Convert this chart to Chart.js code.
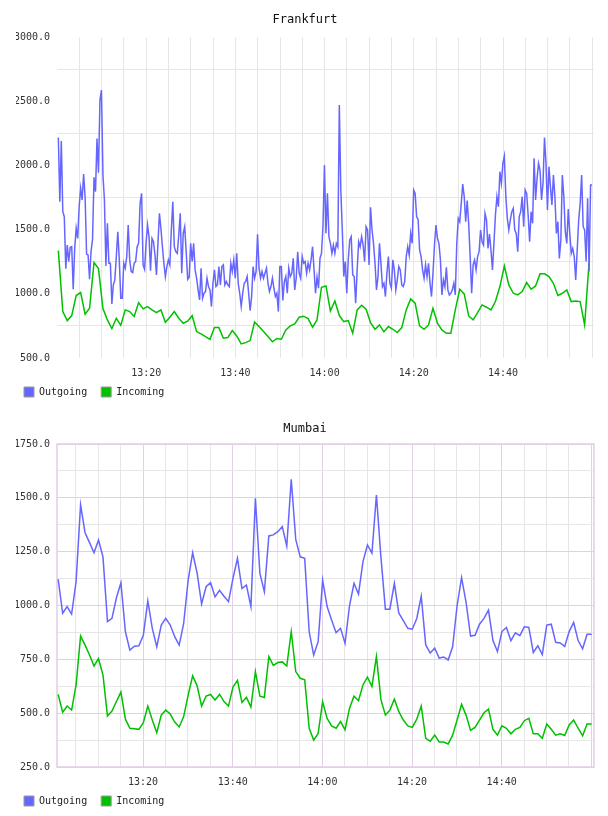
<!DOCTYPE html>
<html>
<head>
<meta charset="utf-8">
<script src="https://cdn.jsdelivr.net/npm/chart.js@4.4.1/dist/chart.umd.min.js"></script>
<style>
  body { margin: 0; background: #fff; width: 608px; height: 816px; overflow: hidden; position: relative; }
  canvas { position: absolute; left: 0; }
</style>
</head>
<body>
<canvas id="frankfurt" width="608" height="407" style="top:0"></canvas>
<canvas id="mumbai" width="608" height="407" style="top:409px"></canvas>
<script>
// values (time in minutes since midnight)
const frankfurtOutgoing = [
  2220,1719,2192,1641,1602,1197,1381,1252,1363,1368,1036,1355,1511,1433,1680,1823,1732,1935,1758,1311,
  1303,1114,1329,1426,1909,1797,2212,1945,2511,2589,1927,1732,1218,1550,1239,1239,922,1070,1109,1291,
  1485,1265,966,966,1239,1200,1291,1537,1265,1174,1166,1239,1252,1368,1394,1706,1784,1226,1192,1394,
  1537,1446,1181,1433,1407,1303,1148,1394,1628,1511,1368,1239,1135,1213,1265,1226,1498,1719,1368,1329,
  1316,1459,1628,1161,1472,1524,1329,1114,1130,1394,
  1252,1394,1187,1122,1031,953,1200,966,1005,1018,1122,1057,1031,901,1083,1187,1057,1070,1213,1070,
  1213,1226,1070,1096,1070,1057,1239,1174,1265,1122,1316,1083,1005,901,1005,1083,1096,1135,1005,870,
  979,1213,1122,1174,1464,1200,1122,1174,1122,1161,1200,1083,1018,1057,1122,1044,979,1005,862,1213,
  1213,948,1096,1135,1005,1200,1135,1161,1278,1031,1122,1329,1161,1122,1291,1239,1252,1161,1239,1187,
  1265,1368,1187,1005,1130,1044,1278,1316,1524,2005,
  1472,1784,1446,1394,1316,1381,1316,1394,1368,2472,1810,1498,1135,1252,1005,1265,1420,1446,1148,1135,
  927,1187,1407,1368,1446,1381,1252,1524,1498,1226,1675,1498,1394,1239,1031,1135,1394,1239,1057,1083,
  979,1161,1291,1083,1044,1265,1187,1031,1109,1213,1187,1070,1057,1096,1291,1368,1303,1472,1394,1810,
  1784,1602,1581,1342,1291,1187,1122,1226,1135,1239,1083,979,1161,1381,1537,1433,1394,1265,992,1109,
  1057,1207,1031,992,1005,1031,1083,992,1394,1589,
  1563,1706,1857,1758,1563,1727,1550,1291,1005,1226,1265,1187,1291,1329,1498,1407,1381,1628,1576,1355,
  1467,1342,1187,1394,1615,1758,1680,1953,1862,2018,2075,1758,1589,1498,1576,1641,1667,1498,1472,1329,
  1602,1641,1758,1524,1810,1784,1615,1407,1641,1550,2057,1732,1901,2018,1966,1732,1862,2220,2018,1654,
  1992,1836,1693,1927,1758,1472,1563,1277,1420,1927,1758,1485,1394,1662,1472,1316,1355,1291,1109,1342,
  1576,1706,1927,1524,1498,1252,1745,1174,1849,1849
];
const frankfurtIncoming = [
  1337,862,792,831,987,1010,841,888,1244,1197,885,797,730,810,755,875,862,823,932,883,
  901,875,854,875,779,818,862,810,771,787,830,706,688,667,646,737,737,654,659,714,
  672,610,620,636,781,745,706,667,626,652,646,719,750,766,818,826,807,740,797,1052,
  1062,867,945,831,784,792,693,875,911,880,776,724,758,704,745,724,698,737,875,961,
  927,750,724,758,888,771,719,693,693,875,1036,1000,828,797,854,914,896,875,940,1057,
  1218,1070,1005,992,1018,1088,1036,1062,1156,1156,1135,1083,987,1005,1031,940,945,940,758,1246
];
const mumbaiOutgoing = [
  1122,964,995,960,1111,1467,1338,1292,1245,1304,1226,925,940,1036,1106,878,793,811,813,862,
  1021,894,808,909,940,909,855,816,917,1118,1245,1150,1007,1087,1106,1040,1071,1043,1018,1126,
  1219,1079,1095,995,1498,1150,1064,1323,1328,1343,1366,1276,1586,1307,1226,1219,878,770,832,1118,
  995,933,874,894,824,1000,1103,1053,1204,1281,1243,1513,1226,983,983,1103,964,930,894,890,
  940,1043,817,779,802,756,761,747,808,1000,1129,1015,858,862,913,940,979,837,786,879,
  898,837,873,860,901,898,782,813,772,909,913,829,826,810,879,921,837,799,866,866
];
const mumbaiIncoming = [
  587,504,533,514,631,858,816,770,719,753,677,487,510,554,598,472,430,428,425,456,
  533,468,409,491,514,496,459,436,484,584,673,627,533,579,587,561,588,554,533,621,
  652,550,573,528,693,579,573,763,722,735,738,719,878,693,662,655,430,375,406,553,
  476,441,430,461,423,523,579,558,631,667,624,763,564,491,514,565,507,468,441,434,
  472,533,383,370,398,366,366,357,398,468,541,491,420,434,468,502,519,425,398,441,
  430,404,425,434,465,476,404,404,383,450,425,398,404,396,445,468,430,395,450,450
];

const frankfurtStart = 780.3;     // 13:00:20
const frankfurtOutStep = 1 / 3;   // one sample every 20 s
const mumbaiStart = 781.06;

const BLUE = '#6666ff';
const GREEN = '#00c000';
const GRID = '#e6e6e6';
const PURPLE = '#e3cde7';

Chart.defaults.font.family = "'DejaVu Sans Mono', monospace";
Chart.defaults.font.size = 10;
Chart.defaults.color = '#333';

function toPoints(values, start, step) {
  return values.map((v, i) => ({ x: start + i * step, y: v }));
}

function hhmm(m) {
  const h = Math.floor(m / 60), mm = Math.round(m % 60);
  return h + ':' + (mm < 10 ? '0' : '') + mm;
}

// frame round the plot (Mumbai only)
const plotBorder = {
  id: 'plotBorder',
  beforeDatasetsDraw(chart, args, opts) {
    if (!opts.color) return;
    const a = chart.chartArea, c = chart.ctx;
    c.save();
    c.strokeStyle = opts.color;
    c.lineWidth = 1.5;
    c.strokeRect(a.left, a.top, a.right - a.left, a.bottom - a.top);
    c.restore();
  }
};

function makeChart(id, o) {
  new Chart(document.getElementById(id), {
    type: 'line',
    plugins: [plotBorder],
    data: {
      datasets: [
        { label: 'Outgoing', data: o.outgoing, borderColor: BLUE, backgroundColor: BLUE,
          borderWidth: 1.5, pointRadius: 0, tension: 0 },
        { label: 'Incoming', data: o.incoming, borderColor: GREEN, backgroundColor: GREEN,
          borderWidth: 1.5, pointRadius: 0, tension: 0 }
      ]
    },
    options: {
      responsive: false,
      animation: false,
      events: [],
      layout: { padding: { left: 16, right: 14, top: 0, bottom: 0 } },
      plugins: {
        plotBorder: { color: o.border },
        tooltip: { enabled: false },
        title: {
          display: true,
          text: o.title,
          color: '#111',
          font: { size: 12, weight: 'normal' },
          padding: o.titlePad
        },
        legend: {
          position: 'bottom',
          align: 'start',
          labels: {
            boxWidth: 10,
            boxHeight: 10,
            padding: 8,
            color: '#222',
            // trailing space widens the gap between the two items
            generateLabels: chart => chart.data.datasets.map((ds, i) => ({
              text: ds.label + ' ', fillStyle: ds.borderColor, strokeStyle: '#999',
              lineWidth: 1, hidden: false, datasetIndex: i, fontColor: '#222'
            }))
          }
        }
      },
      scales: {
        x: {
          type: 'linear',
          min: o.xMin,
          max: o.xMax,
          afterFit: s => { s.height = 21; },
          border: { display: false },
          grid: {
            drawTicks: false,
            color: ctx => {
              const v = ctx.tick ? ctx.tick.value : 0;
              if (v <= o.xMin) return 'rgba(0,0,0,0)';
              return (v % 20 === 0 && o.border) ? PURPLE : GRID;
            }
          },
          ticks: {
            stepSize: 5,
            includeBounds: false,
            autoSkip: false,
            maxRotation: 0,
            padding: 9,
            callback: v => (v % 20 === 0 && v > o.xMin + 1 && v < o.xMax - 1) ? hhmm(v) : ''
          }
        },
        y: {
          min: o.yMin,
          max: o.yMax,
          afterFit: s => { s.width = 41; },
          border: { display: false },
          grid: {
            drawTicks: false,
            color: ctx => {
              const v = ctx.tick ? ctx.tick.value : 0;
              if (v % o.yMajor === 0) return o.border ? PURPLE : 'rgba(0,0,0,0)';
              return GRID;
            }
          },
          ticks: {
            stepSize: o.yStep,
            autoSkip: false,
            padding: 7,
            callback: v => v % o.yMajor === 0 ? v.toFixed(1) : ''
          }
        }
      }
    }
  });
}

makeChart('frankfurt', {
  title: 'Frankfurt',
  outgoing: toPoints(frankfurtOutgoing, frankfurtStart, frankfurtOutStep),
  incoming: toPoints(frankfurtIncoming, frankfurtStart, 1),
  xMin: 780, xMax: 900.4,
  yMin: 500, yMax: 3000, yStep: 250, yMajor: 500,
  border: null,
  titlePad: { top: 13, bottom: 10 }
});

makeChart('mumbai', {
  title: 'Mumbai',
  outgoing: toPoints(mumbaiOutgoing, mumbaiStart, 1),
  incoming: toPoints(mumbaiIncoming, mumbaiStart, 1),
  xMin: 780.8, xMax: 900.6,
  yMin: 250, yMax: 1750, yStep: 125, yMajor: 250,
  border: PURPLE,
  titlePad: { top: 13, bottom: 7.6 }
});
</script>
</body>
</html>
